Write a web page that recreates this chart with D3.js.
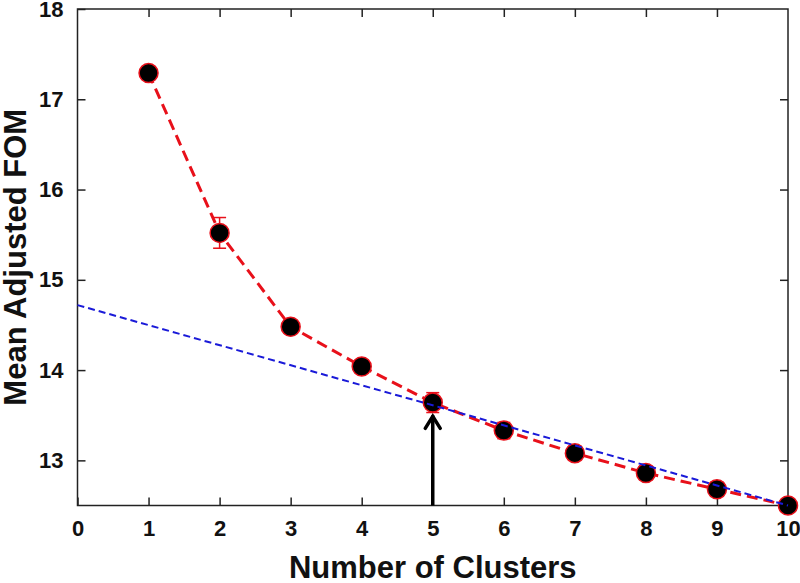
<!DOCTYPE html>
<html>
<head>
<meta charset="utf-8">
<script src="https://cdn.jsdelivr.net/npm/d3@7"></script>
<style>
  html, body { margin: 0; padding: 0; background: #fff; }
  svg { display: block; }
</style>
</head>
<body>
<svg></svg>
<script>
// chart data
const clusters = [1, 2, 3, 4, 5, 6, 7, 8, 9, 10];
const meanFOM = [17.29, 15.52, 14.48, 14.04, 13.64, 13.33, 13.08, 12.86, 12.68, 12.5];
const fomErr = [0.02, 0.17, 0.04, 0.04, 0.11, 0.09, 0.08, 0.08, 0.08, 0.06];

// straight fit line (blue), start and end
const fitX = [0, 10];
const fitY = [14.72, 12.5];

// arrow marking the chosen number of clusters
const arrowX = 5;
const arrowTop = 13.51;

const xTicks = [0, 1, 2, 3, 4, 5, 6, 7, 8, 9, 10];
const yTicks = [13, 14, 15, 16, 17, 18];

const width = 800;
const height = 583;
const margin = {top: 9, right: 12, bottom: 77.5, left: 77.5};

const svg = d3.select('svg')
  .attr('width', width)
  .attr('height', height);

const x = d3.scaleLinear()
  .domain([0, 10])
  .range([margin.left, width - margin.right]);

const y = d3.scaleLinear()
  .domain([12.5, 18])
  .range([height - margin.bottom, margin.top]);

const font = '"Liberation Sans", Arial, sans-serif';
const tickLen = 8;
const fmt = d3.format('d');

// axes: ticks point inward on all four sides
const gx = svg.append('g')
  .attr('transform', `translate(0,${y.range()[0]})`)
  .call(d3.axisBottom(x).tickValues(xTicks).tickFormat(fmt).tickSizeInner(-tickLen).tickSizeOuter(0).tickPadding(15));

const gy = svg.append('g')
  .attr('transform', `translate(${x.range()[0]},0)`)
  .call(d3.axisLeft(y).tickValues(yTicks).tickFormat(fmt).tickSizeInner(-tickLen).tickSizeOuter(0).tickPadding(14));

const gxTop = svg.append('g')
  .attr('transform', `translate(0,${y.range()[1]})`)
  .call(d3.axisTop(x).tickValues(xTicks.slice(1, -1)).tickSizeInner(-tickLen).tickSizeOuter(0).tickFormat(''));

const gyRight = svg.append('g')
  .attr('transform', `translate(${x.range()[1]},0)`)
  .call(d3.axisRight(y).tickValues(yTicks.slice(0, -1)).tickSizeInner(-tickLen).tickSizeOuter(0).tickFormat(''));

[gx, gy, gxTop, gyRight].forEach(g => {
  g.attr('font-size', 22).attr('font-family', font);
  g.select('.domain').remove();
  g.selectAll('.tick line').attr('stroke', '#222').attr('stroke-width', 1.5);
  g.selectAll('.tick text')
    .attr('font-weight', 'bold')
    .attr('fill', '#111');
});

// frame
svg.append('rect')
  .attr('x', x.range()[0])
  .attr('y', y.range()[1])
  .attr('width', x.range()[1] - x.range()[0])
  .attr('height', y.range()[0] - y.range()[1])
  .attr('fill', 'none')
  .attr('stroke', '#222')
  .attr('stroke-width', 1.5);

const points = clusters.map((c, i) => ({c: c, v: meanFOM[i], e: fomErr[i]}));

// red dashed connecting line
svg.append('path')
  .datum(points)
  .attr('fill', 'none')
  .attr('stroke', '#e8101a')
  .attr('stroke-width', 3)
  .attr('stroke-dasharray', '11,6')
  .attr('d', d3.line().x(d => x(d.c)).y(d => y(d.v)));

// error bars
const eb = svg.append('g')
  .attr('stroke', '#e8101a')
  .attr('stroke-width', 1.5);
const capW = 6.5;
points.forEach(d => {
  eb.append('line')
    .attr('x1', x(d.c)).attr('x2', x(d.c))
    .attr('y1', y(d.v + d.e)).attr('y2', y(d.v - d.e));
  eb.append('line')
    .attr('x1', x(d.c) - capW).attr('x2', x(d.c) + capW)
    .attr('y1', y(d.v + d.e)).attr('y2', y(d.v + d.e));
  eb.append('line')
    .attr('x1', x(d.c) - capW).attr('x2', x(d.c) + capW)
    .attr('y1', y(d.v - d.e)).attr('y2', y(d.v - d.e));
});

// markers
svg.append('g')
  .selectAll('circle')
  .data(points)
  .enter()
  .append('circle')
  .attr('cx', d => x(d.c))
  .attr('cy', d => y(d.v))
  .attr('r', 9.5)
  .attr('fill', '#000')
  .attr('stroke', '#e8101a')
  .attr('stroke-width', 1.5);

// blue fit line, drawn on top
svg.append('line')
  .attr('x1', x(fitX[0])).attr('y1', y(fitY[0]))
  .attr('x2', x(fitX[1])).attr('y2', y(fitY[1]))
  .attr('stroke', '#1a1ad8')
  .attr('stroke-width', 2)
  .attr('stroke-dasharray', '7,4');

// arrow
const ax = x(arrowX);
const aTop = y(arrowTop);
svg.append('line')
  .attr('x1', ax).attr('x2', ax)
  .attr('y1', y.range()[0]).attr('y2', aTop + 1)
  .attr('stroke', '#000')
  .attr('stroke-width', 3.5);
svg.append('path')
  .attr('d', `M${ax - 7.5},${aTop + 14}L${ax},${aTop + 2}L${ax + 7.5},${aTop + 14}`)
  .attr('fill', 'none')
  .attr('stroke', '#000')
  .attr('stroke-width', 3.5)
  .attr('stroke-linecap', 'round');

// axis titles
svg.append('text')
  .attr('x', x(5))
  .attr('y', 578)
  .attr('text-anchor', 'middle')
  .attr('font-family', font)
  .attr('font-weight', 'bold')
  .attr('font-size', 31)
  .attr('fill', '#111')
  .text('Number of Clusters');

svg.append('text')
  .attr('transform', `translate(26,${(y.range()[0] + y.range()[1]) / 2}) rotate(-90)`)
  .attr('text-anchor', 'middle')
  .attr('font-family', font)
  .attr('font-weight', 'bold')
  .attr('font-size', 31)
  .attr('fill', '#111')
  .text('Mean Adjusted FOM');
</script>
</body>
</html>
